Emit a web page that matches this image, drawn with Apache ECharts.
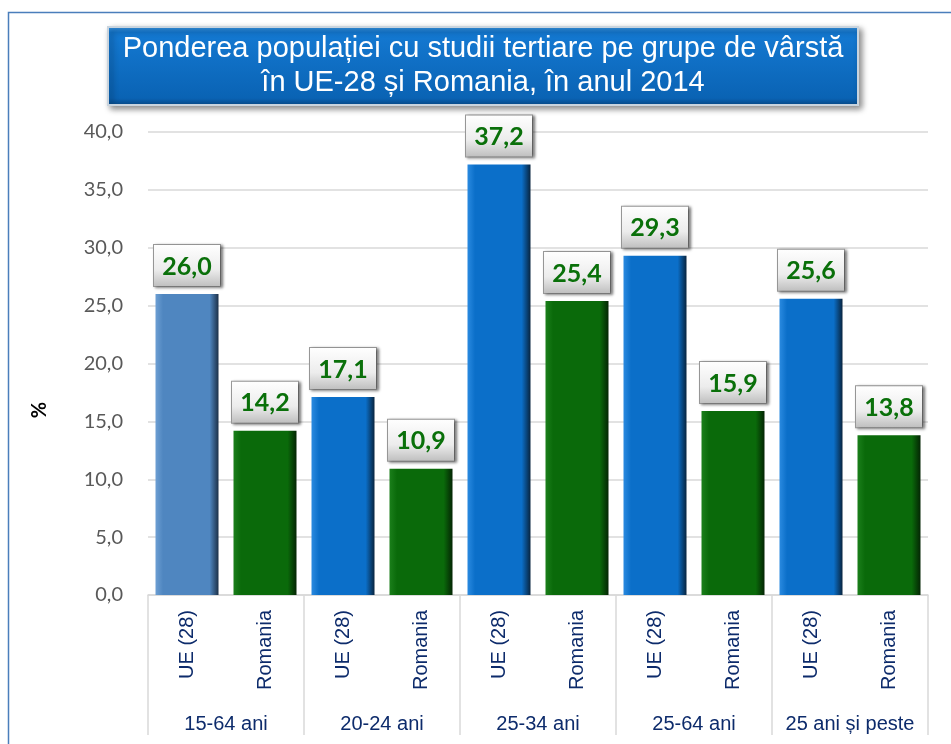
<!DOCTYPE html>
<html>
<head>
<meta charset="utf-8">
<script src="https://cdn.jsdelivr.net/npm/echarts@6/dist/echarts.min.js"></script>
<style>
    html, body { margin: 0; padding: 0; background: #fff; }
    #chart { width: 951px; height: 744px; }
</style>
</head>
<body>
<div id="chart"></div>
<script>
const groups = ['15-64 ani', '20-24 ani', '25-34 ani', '25-64 ani', '25 ani și peste'];
const categories = ['UE (28)', 'Romania', 'UE (28)', 'Romania', 'UE (28)', 'Romania', 'UE (28)', 'Romania', 'UE (28)', 'Romania'];
const values = [26.0, 14.2, 17.1, 10.9, 37.2, 25.4, 29.3, 15.9, 25.6, 13.8];
const yTicks = [0, 5, 10, 15, 20, 25, 30, 35, 40];

/// bevel-ish horizontal gradient for a bar
function bar_fill(light, main, dark) {
    return new echarts.graphic.LinearGradient(0, 0, 1, 0, [
        { offset: 0, color: light },
        { offset: 0.12, color: main },
        { offset: 0.86, color: main },
        { offset: 1, color: dark },
    ]);
}

function comma(v) {
    return v.toFixed(1).replace('.', ',');
}

document.addEventListener("DOMContentLoaded", function () {
    let chart = echarts.init(document.getElementById('chart'), null, { renderer: 'canvas' });

    let data = values.map((v, i) => {
        let fill;
        if (i == 0) {
            fill = bar_fill('#6d9fd3', '#4f86c0', '#1c3048');
        } else if (i % 2 == 0) {
            fill = bar_fill('#2a8ae0', '#0b6fc9', '#08243f');
        } else {
            fill = bar_fill('#1b7f1b', '#0a6a0a', '#042504');
        }
        return { value: v, itemStyle: { color: fill } };
    });

    let option = {
        animation: false,
        grid: {
            left: 148,
            right: 23,
            top: 132,
            bottom: 149,
        },
        graphic: [
            {
                type: 'rect',
                shape: { x: 8.5, y: 12.5, width: 960, height: 760 },
                style: { fill: 'none', stroke: '#4a7ebb', lineWidth: 1.5 },
                z: -1,
            },
            {
                type: 'rect',
                shape: { x: 108, y: 27, width: 750, height: 78 },
                style: {
                    fill: new echarts.graphic.LinearGradient(0, 0, 0, 1, [
                        { offset: 0, color: '#3f9ae6' },
                        { offset: 0.08, color: '#1479d2' },
                        { offset: 0.9, color: '#0a63b4' },
                        { offset: 1, color: '#084a88' },
                    ]),
                    stroke: '#c9d4de',
                    lineWidth: 2,
                    shadowBlur: 6,
                    shadowOffsetX: 3,
                    shadowOffsetY: 3,
                    shadowColor: 'rgba(0,0,0,0.45)',
                },
            },
            {
                type: 'text',
                x: 483,
                y: 66,
                style: {
                    text: 'Ponderea populației cu studii tertiare pe grupe de vârstă\nîn UE-28 și Romania, în anul 2014',
                    fill: '#ffffff',
                    font: '29px "Liberation Sans", Arial, sans-serif',
                    lineHeight: 34,
                    align: 'center',
                    verticalAlign: 'middle',
                },
            },
            {
                type: 'text',
                x: 40,
                y: 410,
                rotation: Math.PI / 2,
                style: {
                    text: '%',
                    fill: '#000',
                    font: 'bold 20px Lato, sans-serif',
                    align: 'center',
                    verticalAlign: 'middle',
                },
            },
        ],
        xAxis: [
            {
                type: 'category',
                data: categories,
                position: 'bottom',
                axisLine: { lineStyle: { color: '#d9d9d9', width: 1.5 } },
                axisTick: { show: false },
                axisLabel: {
                    rotate: 90,
                    margin: 15,
                    interval: 0,
                    color: '#0d2b6b',
                    fontSize: 20,
                    fontFamily: '"Liberation Sans", Arial, sans-serif',
                },
            },
            {
                type: 'category',
                data: groups,
                position: 'bottom',
                axisLine: { show: false },
                axisTick: {
                    show: true,
                    length: 140,
                    lineStyle: { color: '#d9d9d9', width: 1.5 },
                },
                axisLabel: {
                    interval: 0,
                    margin: 119,
                    color: '#0d2b6b',
                    fontSize: 20,
                    fontFamily: '"Liberation Sans", Arial, sans-serif',
                },
            },
        ],
        yAxis: {
            type: 'value',
            min: yTicks[0],
            max: yTicks[yTicks.length - 1],
            interval: 5,
            axisLine: { show: false },
            axisTick: { show: false },
            splitLine: { lineStyle: { color: '#d9d9d9', width: 1.5 } },
            axisLabel: {
                margin: 25,
                color: '#595959',
                fontSize: 20,
                fontFamily: 'Lato, sans-serif',
                formatter: (v) => comma(v),
            },
        },
        series: [
            {
                type: 'bar',
                data: data,
                barWidth: 63,
                label: {
                    show: true,
                    position: 'top',
                    distance: 8,
                    formatter: (p) => comma(p.value),
                    color: '#0a700a',
                    fontSize: 25,
                    fontWeight: 'bold',
                    fontFamily: 'Lato, sans-serif',
                    width: 46,
                    align: 'center',
                    lineHeight: 25,
                    padding: [9, 10, 7, 10],
                    backgroundColor: new echarts.graphic.LinearGradient(0, 0, 0, 1, [
                        { offset: 0, color: '#ffffff' },
                        { offset: 0.6, color: '#ececec' },
                        { offset: 1, color: '#bdbdbd' },
                    ]),
                    borderColor: '#9a9a9a',
                    borderWidth: 1,
                    shadowColor: 'rgba(0,0,0,0.45)',
                    shadowBlur: 3,
                    shadowOffsetX: 2,
                    shadowOffsetY: 1,
                },
            },
        ],
    };
    chart.setOption(option);
});
</script>
</body>
</html>
